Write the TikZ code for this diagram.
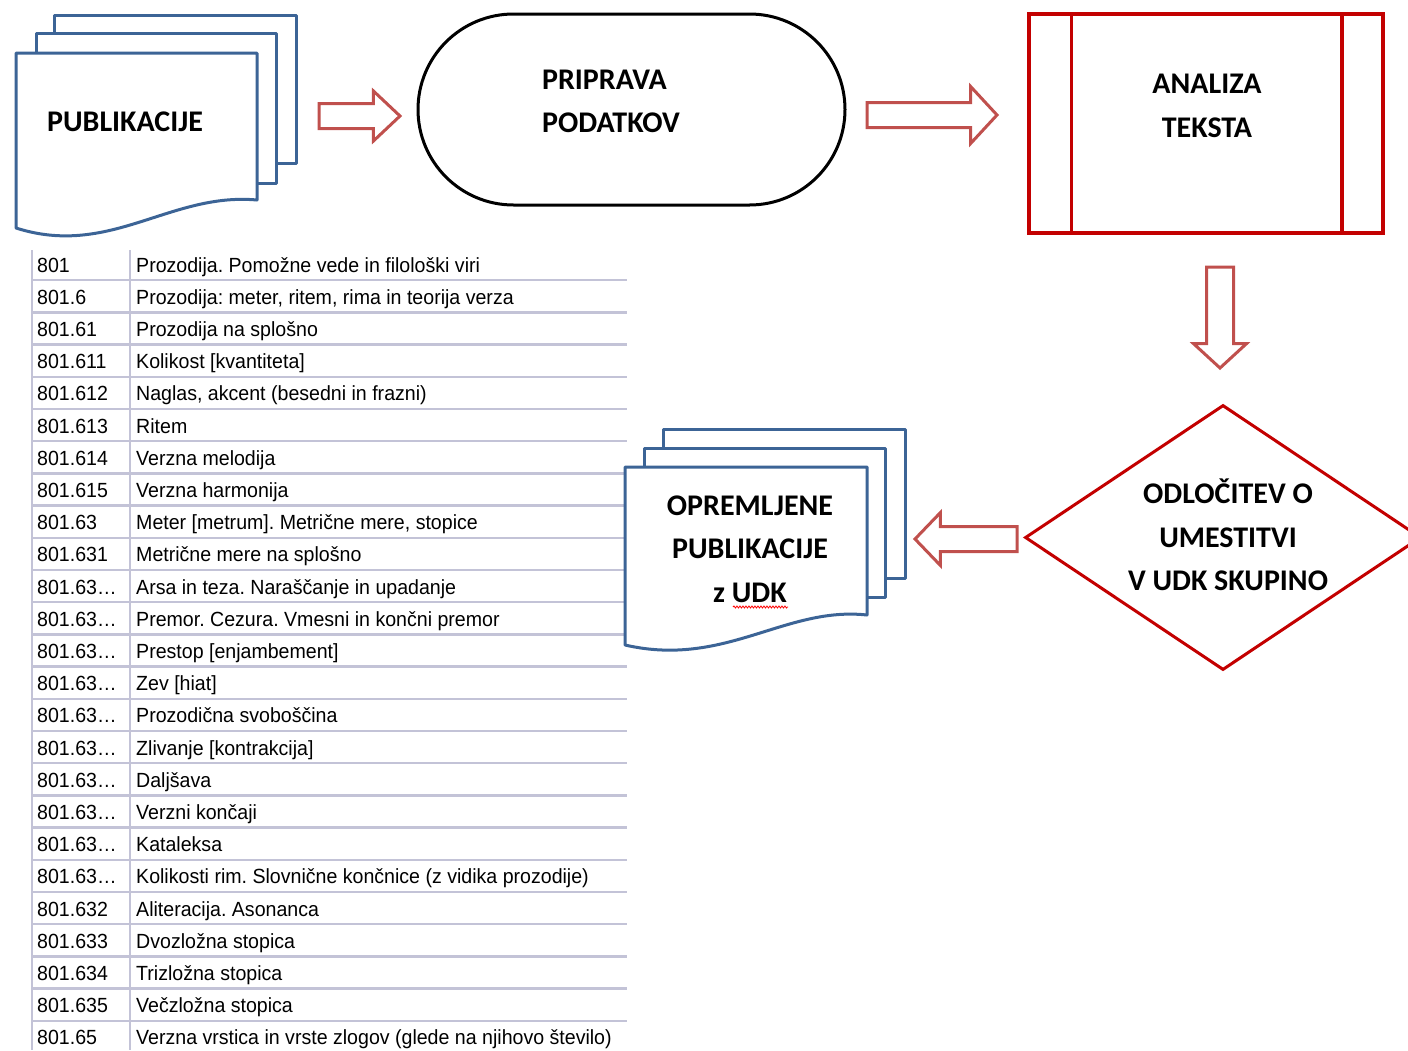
\documentclass[tikz,border=0pt]{standalone}
\usepackage{fontspec}
\usepackage{tikz}
\usetikzlibrary{shapes.geometric,shapes.misc,shapes.arrows,decorations.pathmorphing}
\setmainfont{Carlito}
\newfontfamily\tablefont[FakeStretch=0.955]{Liberation Sans}
\frenchspacing

\definecolor{docblue}{RGB}{60,100,150}
\definecolor{arrowred}{RGB}{192,80,77}
\definecolor{boxred}{RGB}{195,0,0}
\definecolor{rulegray}{RGB}{195,195,215}

\tikzset{
  heading/.style={font=\fontsize{30}{43.5}\selectfont\bfseries, align=center, inner sep=0pt},
  page/.style={draw=docblue, line width=3pt, fill=white, line join=round},
  hollowarrow/.style={single arrow, draw=arrowred, line width=3pt, fill=white,
    inner xsep=0pt, inner ysep=11pt, outer sep=0pt, minimum width=0pt, anchor=tip},
  codecell/.style={font=\tablefont\fontsize{20.5}{24}\selectfont, anchor=base west, inner sep=0pt},
  tablerule/.style={draw=rulegray, line width=2.5pt},
}

\begin{document}
\begin{tikzpicture}[x=1pt, y=-1pt]
    \useasboundingbox (0,0) rectangle (1408,1050);
    \clip (0,0) rectangle (1408,1050);

    % UDK table
    \draw[tablerule] (32,250) -- (32,1050);
    \draw[tablerule] (130,250) -- (130,1050);
    \foreach \code/\desc [count=\r] in {
        801/{Prozodija. Pomožne vede in filološki viri},
        801.6/{Prozodija: meter, ritem, rima in teorija verza},
        801.61/{Prozodija na splošno},
        801.611/{Kolikost [kvantiteta]},
        801.612/{Naglas, akcent (besedni in frazni)},
        801.613/{Ritem},
        801.614/{Verzna melodija},
        801.615/{Verzna harmonija},
        801.63/{Meter [metrum]. Metrične mere, stopice},
        801.631/{Metrične mere na splošno},
        801.63…/{Arsa in teza. Naraščanje in upadanje},
        801.63…/{Premor. Cezura. Vmesni in končni premor},
        801.63…/{Prestop [enjambement]},
        801.63…/{Zev [hiat]},
        801.63…/{Prozodična svoboščina},
        801.63…/{Zlivanje [kontrakcija]},
        801.63…/{Daljšava},
        801.63…/{Verzni končaji},
        801.63…/{Kataleksa},
        801.63…/{Kolikosti rim. Slovnične končnice (z vidika prozodije)},
        801.632/{Aliteracija. Asonanca},
        801.633/{Dvozložna stopica},
        801.634/{Trizložna stopica},
        801.635/{Večzložna stopica},
        801.65/{Verzna vrstica in vrste zlogov (glede na njihovo število)}} {
      \node[codecell] (code\r) at (37,{248+32.2*\r-8.1}) {\code};
      \node[codecell] (desc\r) at (136,{248+32.2*\r-8.1}) {\desc};
      \draw[tablerule] (32,{248+32.2*\r}) -- (627,{248+32.2*\r});
    }

    % input documents
    \draw[page] (54,15) rectangle (296,163);
    \draw[page] (36,33) rectangle (276,183);
    \draw[page] (16,53) -- (257,53) -- (257,200) .. controls (170,192) and (110,258) .. (16,228) -- cycle;
    \node[heading] (pub) at (125,122) {PUBLIKACIJE};

    % preparation
    \node[rounded rectangle, draw, line width=3pt, minimum width=427pt, minimum height=191pt, inner sep=0pt] (prep) at (631.5,109.5) {};
    \node[heading, align=left] (preptext) at (611,101.5) {PRIPRAVA\\PODATKOV};

    % text analysis
    \node[draw=boxred, line width=3.5pt, minimum width=354pt, minimum height=219pt, inner sep=0pt] (analiza) at (1206,123.5) {};
    \draw[boxred, line width=3.5pt] ([xshift=44pt]analiza.north west) -- ([xshift=44pt]analiza.south west);
    \draw[boxred, line width=3.5pt] ([xshift=-43pt]analiza.north east) -- ([xshift=-43pt]analiza.south east);
    \node[heading] (analizatext) at (1207,106) {ANALIZA\\TEKSTA};

    % decision
    \node[diamond, draw=boxred, line width=3pt, minimum width=396pt, minimum height=265pt, inner sep=0pt] (odloc) at (1223,537.5) {};
    \node[heading] (odloctext) at (1228,535) {ODLOČITEV O\\UMESTITVI\\V UDK SKUPINO};

    % output documents
    \draw[page] (663,429) rectangle (905,578);
    \draw[page] (644,448) rectangle (885,597);
    \draw[page] (625,467) -- (867,467) -- (867,615) .. controls (785,606) and (725,668) .. (625,645) -- cycle;
    \node[heading] (opr) at (750,549) {OPREMLJENE\\PUBLIKACIJE\\z UDK};
    \draw[red, line width=0.8pt, decorate, decoration={snake, amplitude=1pt, segment length=3pt}] (733,607) -- (788,607);

    % block arrows
    \node[hollowarrow, minimum height=81pt, single arrow head extend=12.5pt, single arrow tip angle=86.5] (arr1) at (400,116) {};
    \node[hollowarrow, minimum height=130pt, single arrow head extend=16pt, single arrow tip angle=94.4] (arr2) at (997,115) {};
    \node[hollowarrow, rotate=-90, inner ysep=12pt, minimum height=101pt, single arrow head extend=13pt, single arrow tip angle=94.8] (arr3) at (1220,368) {};
    \node[hollowarrow, rotate=180, minimum height=102pt, single arrow head extend=14pt, single arrow tip angle=92.3] (arr4) at (915,539) {};
\end{tikzpicture}
\end{document}
